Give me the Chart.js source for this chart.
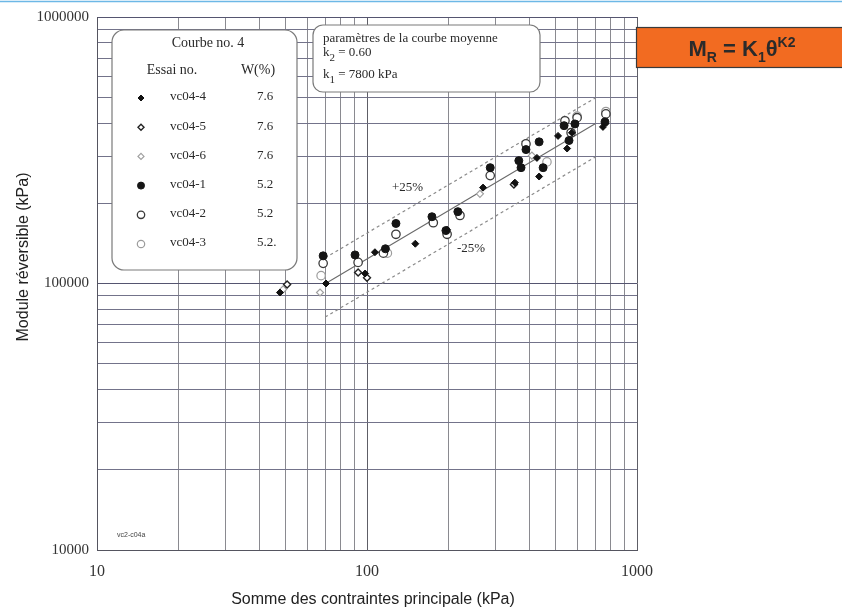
<!DOCTYPE html>
<html>
<head>
<meta charset="utf-8">
<script src="https://cdn.jsdelivr.net/npm/chart.js@4.4.0/dist/chart.umd.min.js"></script>
<style>
  html, body { margin: 0; padding: 0; background: #fff; }
</style>
</head>
<body>
<canvas id="mrChart" width="842" height="613"></canvas>
<script>
// --- Grille log-log ---
const xGrid = [10, 20, 30, 40, 50, 60, 70, 80, 90, 100, 200, 300, 400, 500, 600, 700, 800, 900, 1000];
const yGrid = [10000, 20000, 30000, 40000, 50000, 60000, 70000, 80000, 90000,
  100000, 200000, 300000, 400000, 500000, 600000, 700000, 800000, 900000, 1000000];
const xLabels = [10, 100, 1000];
const yLabels = [10000, 100000, 1000000];

// --- Courbe moyenne MR = k1 * theta^k2 ---
const k1 = 7800;
const k2 = 0.60;
const meanTheta = [70, 700];
const bandPct = 0.25;

// --- Essais (theta en kPa, MR en kPa) ---
const vc044Theta = [47.6, 70.5, 98.4, 107, 151, 198, 269, 353, 426, 434, 510, 551, 574, 748];
const vc044Mr = [92500, 100000, 109000, 131000, 141000, 159000, 229000, 239000, 296000, 252000, 358000, 321000, 368000, 387000];

const vc045Theta = [50.6, 92.7, 100, 350];
const vc045Mr = [99100, 110000, 105000, 235000];

const vc046Theta = [48.9, 67, 262, 408];
const vc046Mr = [95000, 92500, 217000, 302000];

const vc041Theta = [68.8, 90.3, 117, 128, 174, 196, 217, 286, 365, 372, 388, 434, 449, 537, 560, 589, 761];
const vc041Mr = [127000, 128000, 135000, 168000, 178000, 158000, 186000, 272000, 289000, 272000, 318000, 340000, 272000, 391000, 344000, 397000, 404000];

const vc042Theta = [68.8, 92.7, 115, 128, 176, 198, 221, 286, 388, 541, 570, 600, 767];
const vc042Mr = [119000, 120000, 130000, 153000, 169000, 153000, 180000, 254000, 334000, 408000, 368000, 419000, 433000];

const vc043Theta = [67.6, 119, 464, 600, 767];
const vc043Mr = [107000, 130000, 286000, 425000, 442000];

const essais = ['vc04-4', 'vc04-5', 'vc04-6', 'vc04-1', 'vc04-2', 'vc04-3'];
const teneurs = ['7.6', '7.6', '7.6', '5.2', '5.2', '5.2.'];

const toPts = (xs, ys) => xs.map((x, i) => ({ x, y: ys[i] }));
const meanPts = f => meanTheta.map(t => ({ x: t, y: f * k1 * Math.pow(t, k2) }));

// styles des marqueurs (graphique + légende)
const markers = [
  { pointStyle: 'rectRot', radius: 3.5, fill: '#111', stroke: '#111', width: 1 },
  { pointStyle: 'rectRot', radius: 3.5, fill: '#fff', stroke: '#222', width: 1.4 },
  { pointStyle: 'rectRot', radius: 3.5, fill: '#fff', stroke: '#a0a0a0', width: 1.2 },
  { pointStyle: 'circle', radius: 4, fill: '#151515', stroke: '#151515', width: 1 },
  { pointStyle: 'circle', radius: 4.2, fill: '#fff', stroke: '#3a3a3a', width: 1.3 },
  { pointStyle: 'circle', radius: 4.2, fill: '#fff', stroke: '#9c9c9c', width: 1.2 }
];
const series = [
  toPts(vc044Theta, vc044Mr), toPts(vc045Theta, vc045Mr), toPts(vc046Theta, vc046Mr),
  toPts(vc041Theta, vc041Mr), toPts(vc042Theta, vc042Mr), toPts(vc043Theta, vc043Mr)
];

const pointSets = series.map((data, i) => ({
  label: essais[i],
  data,
  pointStyle: markers[i].pointStyle,
  pointRadius: markers[i].radius,
  backgroundColor: markers[i].fill,
  borderColor: markers[i].stroke,
  borderWidth: markers[i].width,
  showLine: false,
  order: 1
}));

const lineSets = [
  { data: meanPts(1), borderColor: '#6a6a6a', borderWidth: 1.2, borderDash: [] },
  { data: meanPts(1 + bandPct), borderColor: '#8a8a8a', borderWidth: 1.2, borderDash: [3, 3] },
  { data: meanPts(1 - bandPct), borderColor: '#8a8a8a', borderWidth: 1.2, borderDash: [3, 3] }
].map(d => Object.assign(d, { showLine: true, pointRadius: 0, fill: false, order: 10 }));

const decades = [10, 100, 1000, 10000, 100000, 1000000];
const gridX = ctx => decades.includes(ctx.tick && ctx.tick.value) ? '#5e5e66' : '#8a8a90';
const gridY = ctx => decades.includes(ctx.tick && ctx.tick.value) ? '#555570' : '#73738a';

// --- Cadres, légende et textes ---
function richText(ctx, runs, x, y, align) {
  let total = 0;
  runs.forEach(r => { ctx.font = r.font; total += ctx.measureText(r.t).width; });
  let cx = align === 'center' ? x - total / 2 : x;
  runs.forEach(r => {
    ctx.font = r.font;
    ctx.fillText(r.t, cx, y + (r.dy || 0));
    cx += ctx.measureText(r.t).width;
  });
}

const overlay = {
  id: 'overlay',
  afterDraw(chart) {
    const ctx = chart.ctx;
    ctx.save();

    // filet bleu en haut
    ctx.strokeStyle = '#6db8e6';
    ctx.lineWidth = 1.5;
    ctx.beginPath(); ctx.moveTo(0, 1.5); ctx.lineTo(842, 1.5); ctx.stroke();

    // encadré légende
    ctx.fillStyle = '#fff';
    ctx.strokeStyle = '#7a7a7a';
    ctx.lineWidth = 1.2;
    ctx.beginPath(); ctx.roundRect(112, 30, 185, 240, 12); ctx.fill(); ctx.stroke();

    ctx.fillStyle = '#2a2a2a';
    ctx.textBaseline = 'middle';
    ctx.textAlign = 'center';
    ctx.font = '14px "Liberation Serif"';
    ctx.fillText('Courbe no. 4', 208, 43);
    ctx.fillText('Essai no.', 172, 70);
    ctx.fillText('W(%)', 258, 70);
    ctx.font = '13px "Liberation Serif"';
    essais.forEach((name, i) => {
      const y = 98 + i * 29.2;
      const m = markers[i];
      ctx.save();
      ctx.fillStyle = m.fill;
      ctx.strokeStyle = m.stroke;
      ctx.lineWidth = m.width;
      Chart.helpers.drawPoint(ctx, { pointStyle: m.pointStyle, radius: m.radius - 0.5, rotation: 0, borderWidth: m.width }, 141, y);
      ctx.restore();
      ctx.fillStyle = '#2a2a2a';
      ctx.textAlign = 'left';
      ctx.fillText(name, 170, y - 1);
      ctx.fillText(teneurs[i], 257, y - 1);
    });

    // encadré paramètres
    ctx.fillStyle = '#fff';
    ctx.strokeStyle = '#7a7a7a';
    ctx.beginPath(); ctx.roundRect(313, 25, 227, 67, 10); ctx.fill(); ctx.stroke();
    ctx.fillStyle = '#2a2a2a';
    ctx.textAlign = 'left';
    ctx.textBaseline = 'alphabetic';
    const f13 = '13px "Liberation Serif"', f10 = '11px "Liberation Serif"';
    ctx.font = f13;
    ctx.fillText('paramètres de la courbe moyenne', 323, 42);
    richText(ctx, [{ t: 'k', font: f13 }, { t: '2', font: f10, dy: 5 }, { t: ' = ' + k2.toFixed(2), font: f13 }], 323, 56);
    richText(ctx, [{ t: 'k', font: f13 }, { t: '1', font: f10, dy: 5 }, { t: ' = ' + k1 + ' kPa', font: f13 }], 323, 78);

    // étiquettes de la bande
    ctx.font = f13;
    ctx.fillText('+' + bandPct * 100 + '%', 392, 191);
    ctx.fillText('-' + bandPct * 100 + '%', 457, 252);

    // code de figure
    ctx.font = '7px "Liberation Sans"';
    ctx.fillStyle = '#444';
    ctx.fillText('vc2-c04a', 117, 537);

    // formule
    ctx.fillStyle = '#f26b21';
    ctx.fillRect(636, 27, 210, 41);
    ctx.strokeStyle = '#3a3a3a';
    ctx.lineWidth = 1.2;
    ctx.strokeRect(636.5, 27.5, 210, 40);
    ctx.fillStyle = '#2b2b2b';
    const fb = 'bold 22px "Liberation Sans"', fs = 'bold 14px "Liberation Sans"';
    richText(ctx, [
      { t: 'M', font: fb }, { t: 'R', font: fs, dy: 6 }, { t: ' = K', font: fb },
      { t: '1', font: fs, dy: 6 }, { t: 'θ', font: fb }, { t: 'K2', font: fs, dy: -9 }
    ], 742, 56, 'center');

    // titres des axes
    ctx.fillStyle = '#222';
    ctx.font = '16px "Liberation Sans"';
    ctx.textAlign = 'center';
    ctx.textBaseline = 'middle';
    ctx.fillText('Somme des contraintes principale (kPa)', 373, 600);
    ctx.translate(24, 257);
    ctx.rotate(-Math.PI / 2);
    ctx.fillText('Module réversible (kPa)', 0, 0);

    ctx.restore();
  }
};

new Chart(document.getElementById('mrChart'), {
  type: 'scatter',
  data: { datasets: [...pointSets, ...lineSets] },
  options: {
    responsive: false,
    animation: false,
    devicePixelRatio: 1,
    layout: { padding: { top: 16, right: 205, left: 0, bottom: 0 } },
    plugins: { legend: { display: false }, tooltip: { enabled: false } },
    scales: {
      x: {
        type: 'logarithmic',
        min: 10, max: 1000,
        afterBuildTicks: s => { s.ticks = xGrid.map(v => ({ value: v })); },
        afterFit: s => { s.height = 63; },
        ticks: {
          autoSkip: false, maxRotation: 0, padding: 12,
          color: '#333', font: { family: 'Liberation Serif', size: 16 },
          callback: v => xLabels.includes(v) ? String(v) : ''
        },
        grid: { color: gridX, lineWidth: 1, drawTicks: false },
        border: { color: '#555560', width: 1 }
      },
      y: {
        type: 'logarithmic',
        min: 10000, max: 1000000,
        afterBuildTicks: s => { s.ticks = yGrid.map(v => ({ value: v })); },
        afterFit: s => { s.width = 97; },
        ticks: {
          autoSkip: false, padding: 8,
          color: '#333', font: { family: 'Liberation Serif', size: 15 },
          callback: v => yLabels.includes(v) ? String(v) : ''
        },
        grid: { color: gridY, lineWidth: 1, drawTicks: false },
        border: { color: '#555560', width: 1 }
      }
    }
  },
  plugins: [overlay]
});
</script>
</body>
</html>
